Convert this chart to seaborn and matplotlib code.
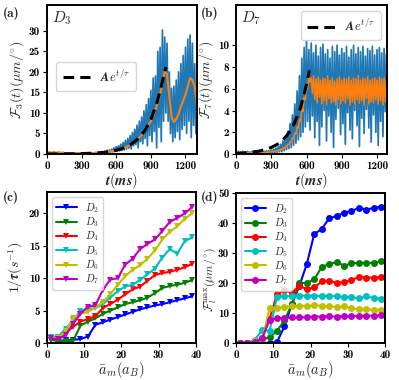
import numpy as np
import pandas as pd
import matplotlib
matplotlib.use("Agg")
import matplotlib.pyplot as plt
import seaborn as sns

# ---------------- data ----------------
# panel (a): D3 signal, peaks (at t=0,20,...) and troughs (at t=10,30,...)
hi_a = [0.4,0.5,0.4,0.5,0.4,0.5,0.4,0.4,0.3,0.3,0.3,0.3,0.3,0.3,0.3,0.3,0.3,0.3,0.3,0.3,0.3,
        0.4,0.4,0.5,0.6,0.7,0.9,1.0,1.2,1.5,1.8,2.0,2.4,2.8,3.3,3.8,4.5,5.2,6.0,7.0,8.0,9.0,10.5,12.0,13.5,15.5,18.5,19.0,25.0,26.0,30.2,
        28.5,27.0,20.0,16.0,16.5,18.0,20.0,22.0,24.0,26.0,28.0,29.0,27.0,22.0,15.0]
lo_a = [0.0,0.1,0.0,0.1,0.0,0.1,0.0,0.0,0.1,0.0,0.0,0.1,0.0,0.0,0.1,0.0,0.0,0.1,0.0,0.1,0.1,
        0.1,0.2,0.2,0.3,0.3,0.4,0.4,0.5,0.6,0.7,0.8,0.9,1.0,1.2,1.4,1.2,2.0,2.3,1.5,3.0,2.5,3.8,2.0,4.5,3.0,5.5,1.5,6.5,3.0,8.0,
        10.0,8.0,5.0,3.0,4.0,5.5,3.5,6.0,7.0,5.0,8.0,4.0,7.0,5.0,4.0]
mean_a = [0.3,0.4,0.3,0.4,0.3,0.3,0.3,0.3,0.2,0.2,0.2,0.2,0.2,0.2,0.2,0.2,0.2,0.2,0.2,0.2,0.2,
          0.25,0.3,0.35,0.4,0.45,0.5,0.6,0.7,0.8,0.9,1.0,1.2,1.4,1.6,1.9,2.2,2.6,3.0,3.5,4.0,4.6,5.3,6.1,7.0,8.0,9.3,10.8,12.5,14.6,17.0,
          20.3,19.5,14.0,9.0,7.8,8.5,9.8,11.5,13.0,14.5,16.5,18.5,18.0,16.5,12.0]
fit_t_a = [0,100,200,300,400,500,600,650,700,750,800,850,900,950,1000,1030]
fit_v_a = [0.01,0.02,0.05,0.1,0.2,0.4,0.9,1.3,1.9,2.8,4.0,5.8,8.4,12.2,17.6,21.2]

# panel (b): D7 signal
hi_b = [0.2,0.25,0.2,0.25,0.2,0.25,0.2,0.25,0.2,0.25,0.2,0.2,0.25,0.3,0.3,
        0.35,0.45,0.55,0.7,0.9,1.2,1.6,2.1,2.8,3.6,4.6,5.8,7.2,8.8,9.8,10.4,9.6,10.2,
        9.3,10.0,9.0,9.8,10.1,9.2,9.6,8.8,9.9,9.4,10.0,9.1,9.7,9.3,9.9,8.9,9.6,10.0,9.2,9.8,9.4,9.9,9.0,9.7,9.5,9.9,9.1,9.6,9.8,9.3,9.7,9.2,9.6]
lo_b = [0.05,0.0,0.05,0.0,0.05,0.0,0.05,0.0,0.05,0.05,0.05,0.05,0.1,0.1,0.1,
        0.1,0.1,0.15,0.2,0.2,0.3,0.4,0.5,0.6,0.8,1.0,1.3,1.6,2.0,2.5,3.0,2.2,3.5,
        1.5,3.0,0.8,2.5,4.0,1.2,3.5,2.0,0.6,3.2,4.2,1.8,2.8,0.9,3.8,2.2,1.4,4.0,2.6,0.7,3.3,1.9,4.1,2.4,1.1,3.6,2.0,0.8,3.0,1.6,3.9,2.3,1.3]
mhi_b = [0.1,0.12,0.1,0.12,0.1,0.12,0.1,0.12,0.1,0.12,0.12,0.13,0.15,0.17,0.2,
         0.22,0.26,0.3,0.36,0.45,0.55,0.7,0.9,1.15,1.5,1.95,2.5,3.2,4.1,5.2,6.4,7.4,7.0,
         7.2,6.9,7.1,6.8,7.0,6.9,7.2,6.8,7.0,6.7,6.9,7.1,6.8,7.0,6.9,7.1,6.8,7.0,6.9,7.2,6.8,7.0,6.9,7.1,6.8,6.9,7.0,6.8,7.1,6.9,7.0,6.8,6.9]
mlo_b = [0.08,0.1,0.08,0.1,0.08,0.1,0.08,0.1,0.08,0.1,0.1,0.11,0.13,0.15,0.18,
         0.2,0.24,0.28,0.33,0.42,0.52,0.66,0.85,1.1,1.4,1.85,2.4,3.0,3.9,5.0,6.0,6.6,5.6,
         5.0,4.7,5.2,4.6,4.9,4.5,5.1,4.7,4.8,4.5,5.0,4.6,4.9,4.7,5.1,4.5,4.8,4.6,5.0,4.7,4.9,4.5,5.1,4.6,4.8,4.7,5.0,4.6,4.9,4.5,4.8,4.7,5.0]
fit_t_b = [0,100,200,300,350,400,450,500,550,600,625]
fit_v_b = [0.05,0.12,0.27,0.6,0.88,1.3,1.95,2.9,4.3,6.4,7.7]

# panels (c) and (d)
a_m = [1,3,5,7,9,11,13,15,17,19,21,23,25,27,29,31,33,35,37,39]
series = ["$D_2$","$D_3$","$D_4$","$D_5$","$D_6$","$D_7$"]
colors = ["b","g","r","c","y","m"]
inv_tau = {
    "$D_2$": [0.5,0.4,0.4,0.5,0.6,1.0,2.8,3.2,3.6,4.0,4.4,4.8,5.2,5.5,5.8,6.0,6.3,6.6,6.9,7.2],
    "$D_3$": [0.5,0.3,0.3,0.3,2.7,3.3,3.8,4.5,5.0,5.5,6.0,6.3,6.6,7.0,7.7,8.5,8.8,9.0,9.3,9.7],
    "$D_4$": [0.8,0.8,1.5,2.5,3.3,3.7,4.1,5.4,6.0,6.7,7.5,8.3,8.7,9.6,10.5,10.8,11.0,11.3,11.7,12.2],
    "$D_5$": [1.0,1.0,2.2,3.5,5.0,5.2,5.4,6.0,7.0,8.0,8.7,9.0,9.7,10.6,11.5,13.2,14.5,13.8,15.7,16.3],
    "$D_6$": [0.8,0.8,1.8,3.8,4.5,4.8,5.5,6.3,7.5,9.0,10.3,11.3,12.0,13.0,14.3,16.0,17.2,18.0,19.2,20.0],
    "$D_7$": [0.7,0.6,1.2,3.0,4.5,5.6,5.8,8.2,9.8,10.0,12.1,13.0,14.5,15.3,16.0,17.3,18.7,19.3,20.0,21.0],
}
f_max = {
    "$D_2$": [0,0,0,0,0,0.3,5.5,13,19,26.3,36.3,38,41.5,42.3,43.5,44,45,44.5,45,45.5],
    "$D_3$": [0,0,0.3,1,2,4,7.5,13,20,20,21.2,25.3,26.3,27,25.8,26.5,26.8,26.6,26.8,27.2],
    "$D_4$": [0,0,0.5,1.5,8,16.2,17.5,16.8,19,18,18.5,20.5,20.8,20,20.3,21,22,21.8,21.8,22],
    "$D_5$": [0,0,1,4.3,4,15.3,15.5,15.8,15.8,15.8,15.8,15.6,15.8,15.5,15.3,15.2,14.9,15.5,15,14.7],
    "$D_6$": [0,0,0.5,1,11.5,11.8,12,12.3,12.3,12.3,12.5,12.4,12.2,12,12.2,11.5,11.3,11.3,11,11],
    "$D_7$": [0,0,0.3,1.5,7.8,8.2,8.3,8.5,8.5,8.6,8.8,8.8,8.9,8.8,9,9,9,9.1,9.1,9.2],
}

# ---------------- style ----------------
sns.set_style("ticks")
plt.rcParams.update({
    "font.family": ["serif"],
    "font.serif": ["cmb10", "cmr10", "DejaVu Serif"],
    "mathtext.fontset": "cm",
    "axes.formatter.use_mathtext": False,
    "axes.linewidth": 1.4,
    "axes.edgecolor": "black",
    "xtick.color": "black",
    "ytick.color": "black",
    "xtick.direction": "out",
    "ytick.direction": "out",
    "xtick.major.size": 3.0,
    "ytick.major.size": 3.0,
    "xtick.major.pad": 2.0,
    "ytick.major.pad": 2.0,
    "xtick.labelsize": 8,
    "ytick.labelsize": 8,
})

fig = plt.figure(figsize=(3.99, 3.80), dpi=100)
ax_a = fig.add_axes([0.1178, 0.5947, 0.376, 0.392])
ax_b = fig.add_axes([0.5915, 0.5947, 0.3785, 0.392])
ax_c = fig.add_axes([0.1178, 0.0974, 0.373, 0.397])
ax_d = fig.add_axes([0.5915, 0.0974, 0.3734, 0.3947])

blue = "#1f77b4"
orange = "#ff7f0e"


def zigzag(hi, lo):
    t, v = [], []
    for i, (h, l) in enumerate(zip(hi, lo)):
        t += [20 * i, 20 * i + 10]
        v += [h, l]
    return pd.DataFrame({"t": t, "v": v})


XL = 10.5
YL = 10

# ---- (a)
df = zigzag(hi_a, lo_a)
sns.lineplot(data=df, x="t", y="v", ax=ax_a, color=blue, lw=1.25, estimator=None, sort=False)
dm = pd.DataFrame({"t": [20 * i for i in range(len(mean_a))], "v": mean_a})
sns.lineplot(data=dm, x="t", y="v", ax=ax_a, color=orange, lw=1.5, estimator=None, sort=False)
dfit = pd.DataFrame({"t": fit_t_a, "v": fit_v_a})
sns.lineplot(data=dfit, x="t", y="v", ax=ax_a, color="black", lw=2.2, ls=(0, (3.5, 2)),
             estimator=None, sort=False, label=r"$\boldsymbol{Ae^{t/\tau}}$")
ax_a.set_xlim(0, 1300)
ax_a.set_ylim(0, 36.3)
ax_a.set_xticks([0, 300, 600, 900, 1200])
ax_a.set_yticks([0, 5, 10, 15, 20, 25, 30])
ax_a.set_xlabel(r"$\boldsymbol{t(ms)}$", fontsize=XL, labelpad=0)
ax_a.set_ylabel(r"$\mathcal{F}_3(t)(\mu m/^{\circ})$", fontsize=YL, labelpad=2)
ax_a.text(0.03, 0.97, r"$\boldsymbol{D_3}$", transform=ax_a.transAxes, fontsize=11, va="top")
ax_a.legend(loc="center left", bbox_to_anchor=(0.02, 0.52), fontsize=9, handlelength=2.2,
            borderpad=0.5, handletextpad=0.8)

# ---- (b)
df = zigzag(hi_b, lo_b)
sns.lineplot(data=df, x="t", y="v", ax=ax_b, color=blue, lw=1.25, estimator=None, sort=False)
dm = zigzag(mhi_b, mlo_b)
sns.lineplot(data=dm, x="t", y="v", ax=ax_b, color=orange, lw=1.1, estimator=None, sort=False)
dfit = pd.DataFrame({"t": fit_t_b, "v": fit_v_b})
sns.lineplot(data=dfit, x="t", y="v", ax=ax_b, color="black", lw=2.2, ls=(0, (3.5, 2)),
             estimator=None, sort=False, label=r"$\boldsymbol{Ae^{t/\tau}}$")
ax_b.set_xlim(0, 1285)
ax_b.set_ylim(0, 13.7)
ax_b.set_xticks([0, 300, 600, 900, 1200])
ax_b.set_yticks([0, 2, 4, 6, 8, 10])
ax_b.set_xlabel(r"$\boldsymbol{t(ms)}$", fontsize=XL, labelpad=0)
ax_b.set_ylabel(r"$\mathcal{F}_7(t)(\mu m/^{\circ})$", fontsize=YL, labelpad=2)
ax_b.text(0.03, 0.97, r"$\boldsymbol{D_7}$", transform=ax_b.transAxes, fontsize=11, va="top")
ax_b.legend(loc="upper right", fontsize=9, handlelength=2.2, borderpad=0.5, handletextpad=0.8)

# ---- (c)
rows = []
for s in series:
    for x, v in zip(a_m, inv_tau[s]):
        rows.append((s, x, v))
dc = pd.DataFrame(rows, columns=["D", "a", "v"])
sns.lineplot(data=dc, x="a", y="v", hue="D", palette=colors, ax=ax_c, marker="v",
             markersize=5, markeredgewidth=0, lw=1.5, estimator=None, sort=False)
ax_c.set_xlim(0, 40)
ax_c.set_ylim(0, 23.3)
ax_c.set_xticks([0, 10, 20, 30, 40])
ax_c.set_yticks([0, 5, 10, 15, 20])
ax_c.set_xlabel(r"$\bar{a}_m(a_B)$", fontsize=XL, labelpad=0)
ax_c.set_ylabel(r"$\boldsymbol{1/\tau(s^{-1})}$", fontsize=YL, labelpad=3)
ax_c.legend(loc="upper left", fontsize=7.5, handlelength=2.0, labelspacing=0.05,
            borderpad=0.35, handletextpad=0.8, title=None)

# ---- (d)
rows = []
for s in series:
    for x, v in zip(a_m, f_max[s]):
        rows.append((s, x, v))
dd = pd.DataFrame(rows, columns=["D", "a", "v"])
sns.lineplot(data=dd, x="a", y="v", hue="D", palette=colors, ax=ax_d, marker="o",
             markersize=5, markeredgewidth=0, lw=1.5, estimator=None, sort=False)
ax_d.set_xlim(0, 40)
ax_d.set_ylim(0, 50)
ax_d.set_xticks([0, 10, 20, 30, 40])
ax_d.set_yticks([0, 10, 20, 30, 40, 50])
ax_d.set_xlabel(r"$\bar{a}_m(a_B)$", fontsize=XL, labelpad=0)
ax_d.set_ylabel(r"$\mathcal{F}_l^{\max}(\mu m/^{\circ})$", fontsize=8.5, labelpad=3)
ax_d.yaxis.set_label_coords(-0.12, 0.42)
ax_d.legend(loc="upper left", fontsize=7.5, handlelength=2.0, labelspacing=0.05,
            borderpad=0.35, handletextpad=0.8, title=None)

for ax in (ax_a, ax_b, ax_c, ax_d):
    for sp in ax.spines.values():
        sp.set_visible(True)
        sp.set_linewidth(1.4)

fig.text(3 / 399, 1 - 13 / 380, "(a)", fontsize=9.5, va="center")
fig.text(201 / 399, 1 - 13 / 380, "(b)", fontsize=9.5, va="center")
fig.text(3 / 399, 1 - 198 / 380, "(c)", fontsize=9.5, va="center")
fig.text(201 / 399, 1 - 198 / 380, "(d)", fontsize=9.5, va="center")

fig.savefig("out.png", dpi=100)
